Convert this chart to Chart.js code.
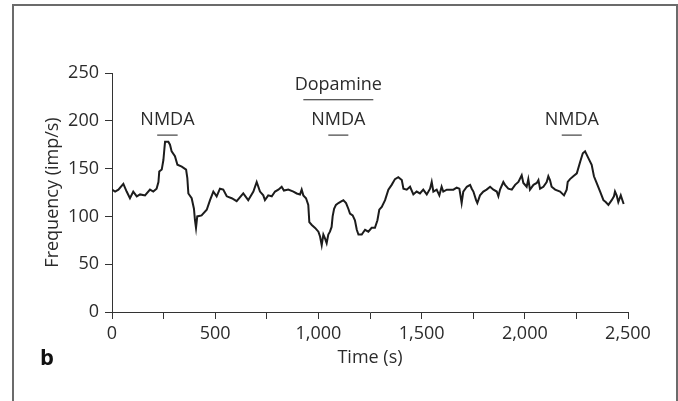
<!DOCTYPE html>
<html><head><meta charset="utf-8">
<script src="https://cdn.jsdelivr.net/npm/chart.js@4.4.0/dist/chart.umd.min.js"></script>
<style>
html,body{margin:0;padding:0;background:#fff;}
#wrap{position:relative;width:678px;height:401px;overflow:hidden;}
#frame{position:absolute;left:12px;top:4px;width:662px;height:420px;border:2px solid #6b6b6b;border-bottom:none;pointer-events:none;}
canvas{position:absolute;left:0;top:0;}
</style></head><body>
<div id="wrap"><canvas id="c" width="678" height="401"></canvas><div id="frame"></div></div>
<script>
// ---- data ----
const timeS = [0,15,31,55,71,87,103,120,136,160,184,200,216,225,229,241,249,254,257,273,281,289,305,317,338,359,365,370,386,397,402,407,413,434,459,475,491,507,523,539,556,580,604,636,660,685,701,
717,733,741,757,774,790,806,822,833,854,879,895,911,919,927,940,951,956,968,984,1000,1008,1016,1024,1032,1040,1048,1056,1064,1069,1076,1085,1097,1113,1121,1134,1145,1153,1166,1177,1186,1194,1210,1226,1242,1258,1274,1286,1295,1307,1323,1339,1355,1371,1387,1404,1412,1428,1444,1460,1476,1492,
1508,1525,1541,1549,1557,1573,1586,1597,1605,1622,1638,1654,1670,1683,1694,1702,1719,1735,1743,1751,1764,1770,1783,1799,1815,1832,1848,1864,1872,1880,1896,1904,1920,1937,1953,1969,1985,1993,2009,2017,2025,2042,2058,2066,2074,2090,2106,2114,2122,2130,2147,2171,2190,2203,2208,2219,2235,2252,2268,2281,2292,2308,2324,2335,2348,2365,2381,2392,2405,2421,2432,2437,2445,2453,2465,2479];
const frequency = [128,126,128,134,126,119,126,121,123,122,128,126,129,136,147,149,159,171,178,178,175,168,163,154,152,149,140,124,119,108,96,88,100,101,107,117,126,121,129,128,121,119,116,124,117,126,136,
126,122,117,122,121,126,128,131,127,128,126,124,123,128,122,119,112,94,91,88,84,79,70,81,77,72,81,84,89,100,108,112,114,116,117,114,108,103,101,96,86,81,81,86,84,88,88,96,107,110,117,128,133,139,141,138,129,128,131,123,126,124,
128,123,129,136,126,128,122,131,126,128,128,128,130,129,114,126,131,133,129,126,117,114,122,126,128,131,128,126,121,128,136,133,129,128,133,136,143,135,131,139,128,133,135,138,129,131,136,142,138,131,128,126,122,128,136,139,142,145,157,166,168,161,154,142,135,126,117,115,112,117,121,126,122,115,122,113];
const xTickValues = [0,500,1000,1500,2000,2500];
const yTickValues = [0,50,100,150,200,250];
const stimLabels = ['NMDA','NMDA','NMDA'];
const stimStart = [219,1048,2179];
const stimEnd = [318,1145,2276];
const drugLabel = 'Dopamine';
const drugStart = 927;
const drugEnd = 1266;
const panelLetter = 'b';

// ---- styles ----
const TEXT = '#2b2b2b';
const AXIS = '#333333';
const FONT = '"Open Sans", sans-serif';

const annotations = {
  id: 'annotations',
  afterDatasetsDraw(chart) {
    const {ctx, scales: {x, y}} = chart;
    ctx.save();
    ctx.fillStyle = TEXT;
    ctx.textAlign = 'center';
    ctx.textBaseline = 'alphabetic';
    ctx.font = '18px ' + FONT;
    stimStart.forEach((s, i) => {
      const x0 = x.getPixelForValue(s), x1 = x.getPixelForValue(stimEnd[i]);
      const yb = y.getPixelForValue(185);
      ctx.strokeStyle = '#666';
      ctx.lineWidth = 1.5;
      ctx.beginPath(); ctx.moveTo(x0, yb); ctx.lineTo(x1, yb); ctx.stroke();
      ctx.fillText(stimLabels[i], (x0 + x1) / 2, y.getPixelForValue(196));
    });
    const d0 = x.getPixelForValue(drugStart), d1 = x.getPixelForValue(drugEnd);
    const yd = y.getPixelForValue(222);
    ctx.strokeStyle = '#222';
    ctx.lineWidth = 1.2;
    ctx.beginPath(); ctx.moveTo(d0, yd); ctx.lineTo(d1, yd); ctx.stroke();
    ctx.fillText(drugLabel, (d0 + d1) / 2, y.getPixelForValue(232));
    ctx.textAlign = 'left';
    ctx.font = 'bold 22px ' + FONT;
    ctx.fillStyle = '#111';
    ctx.fillText(panelLetter, 40, 365);
    ctx.restore();
  }
};

new Chart(document.getElementById('c'), {
  type: 'line',
  data: {
    datasets: [{
      data: timeS.map((t, i) => ({x: t, y: frequency[i]})),
      borderColor: '#1c1c1c',
      borderWidth: 2,
      pointRadius: 0,
      tension: 0,
      fill: false
    }]
  },
  options: {
    responsive: false,
    devicePixelRatio: 1,
    animation: false,
    layout: {padding: {left: 0, top: 73, right: 50, bottom: 0}},
    plugins: {legend: {display: false}, tooltip: {enabled: false}},
    scales: {
      x: {
        type: 'linear', min: 0, max: 2500,
        afterFit(s) { s.height = 89; },
        afterBuildTicks(s) {
          const t = [];
          for (let v = 0; v <= 2500; v += 250) t.push({value: v});
          s.ticks = t;
        },
        border: {color: AXIS, width: 1},
        grid: {drawOnChartArea: false, color: AXIS, tickLength: 7, lineWidth: 1},
        ticks: {
          autoSkip: false, maxRotation: 0, padding: 4, color: TEXT,
          font: {family: FONT, size: 18},
          callback: v => xTickValues.includes(v) ? v.toLocaleString('en-US') : ''
        },
        title: {display: true, text: 'Time (s)', color: TEXT, font: {family: FONT, size: 18}, padding: {top: 0, bottom: 32}}
      },
      y: {
        min: 0, max: 250,
        afterFit(s) { s.width = 112; },
        afterBuildTicks(s) { s.ticks = yTickValues.map(v => ({value: v})); },
        border: {color: AXIS, width: 1},
        grid: {drawOnChartArea: false, color: AXIS, tickLength: 7, lineWidth: 1},
        ticks: {padding: 6, color: TEXT, font: {family: FONT, size: 18}},
        title: {display: true, text: 'Frequency (imp/s)', color: TEXT, font: {family: FONT, size: 18}, padding: {top: 42, bottom: 0}}
      }
    }
  },
  plugins: [annotations]
});
</script>
</body></html>
